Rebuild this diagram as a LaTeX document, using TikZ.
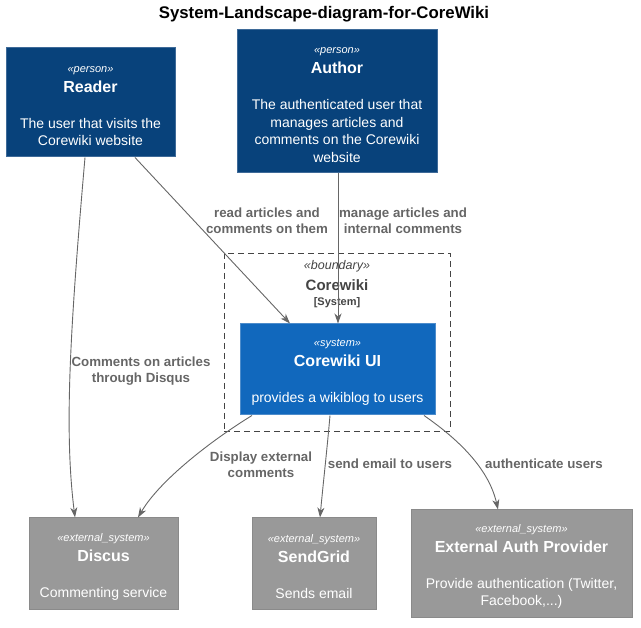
\documentclass[tikz,border=0pt]{standalone}
\usepackage{fontspec}
\setmainfont{Liberation Sans}
\usetikzlibrary{arrows.meta}
\begin{document}
\definecolor{personbg}{HTML}{08427B}
\definecolor{personbd}{HTML}{3E6A98}
\definecolor{sysbg}{HTML}{1168BD}
\definecolor{sysbd}{HTML}{4D8CCB}
\definecolor{extbg}{HTML}{999999}
\definecolor{extbd}{HTML}{8A8A8A}
\definecolor{edgec}{HTML}{666666}
\definecolor{bndc}{HTML}{444444}
\newcommand{\stereo}[1]{\rule{0pt}{13pt}{\fontsize{11}{13}\selectfont\itshape #1}}
\newcommand{\nm}[1]{{\fontsize{16}{19}\selectfont\bfseries #1}}
\tikzset{
  box/.style={draw, line width=1pt, text=white, align=center, inner sep=0pt,
    font=\fontsize{14}{17.5}\selectfont},
  personbox/.style={box, fill=personbg, draw=personbd},
  sysbox/.style={box, fill=sysbg, draw=sysbd},
  extbox/.style={box, fill=extbg, draw=extbd},
  bndbox/.style={draw=bndc, line width=0.8pt, dash pattern=on 6pt off 4pt, inner sep=0pt},
  bndtext/.style={align=center, text=bndc, inner sep=0pt, font=\fontsize{12}{15}\selectfont},
  rel/.style={draw=edgec, line width=0.9pt, -{Stealth[length=10pt,width=7pt,inset=3pt]}},
  rellabel/.style={text=edgec, font=\fontsize{13.3}{16}\selectfont\bfseries, align=center, inner sep=0pt},
}
\begin{tikzpicture}[x=1pt,y=-1pt]
\useasboundingbox (0,0) rectangle (641,628);
\node[font=\fontsize{16.8}{19}\selectfont\bfseries] (title) at (324,14) {System-Landscape-diagram-for-CoreWiki};

\node[personbox, minimum width=169, minimum height=109] (reader) at (90.5,102.5)
  {\stereo{«person»}\\[2.5pt]\nm{Reader}\\[18.5pt]The user that visits the\\Corewiki website};
\node[personbox, minimum width=200, minimum height=143] (author) at (337,101.5)
  {\stereo{«person»}\\[2.5pt]\nm{Author}\\[18.5pt]The authenticated user that\\manages articles and\\comments on the Corewiki\\website};

\node[bndbox, minimum width=226, minimum height=178] (bnd) at (337,342) {};
\node[bndtext, anchor=north] (bndlabel) at (337,260)
  {{\fontsize{12.5}{15}\selectfont\itshape «boundary»}\\[6pt]{\fontsize{15}{18}\selectfont\bfseries Corewiki}\\{\fontsize{11}{13}\selectfont\bfseries [System]}};

\node[sysbox, minimum width=195, minimum height=91] (ui) at (337.5,369.5)
  {\stereo{«system»}\\[2.5pt]\nm{Corewiki UI}\\[18.5pt]provides a wikiblog to users};

\node[extbox, minimum width=149, minimum height=92] (discus) at (103.5,564)
  {\stereo{«external\_system»}\\[2.5pt]\nm{Discus}\\[18.5pt]Commenting service};
\node[extbox, minimum width=124, minimum height=92] (sendgrid) at (314,564)
  {\stereo{«external\_system»}\\[2.5pt]\nm{SendGrid}\\[18.5pt]Sends email};
\node[extbox, minimum width=221, minimum height=108] (auth) at (521.5,564)
  {\stereo{«external\_system»}\\[2.5pt]\nm{External Auth Provider}\\[18.5pt]Provide authentication (Twitter,\\Facebook,...)};

% relations
\draw[rel] ([xshift=-5.5pt]reader.south) .. controls (70,330) and (64,430) .. ([xshift=-28.5pt]discus.north);
\draw[rel] ([xshift=44.5pt]reader.south) -- ([xshift=-47.5pt]ui.north);
\draw[rel] ([xshift=1pt]author.south) -- ([xshift=0.5pt]ui.north);
\draw[rel] ([xshift=-85.5pt]ui.south) .. controls (212,440) and (160,480) .. ([xshift=34.5pt]discus.north);
\draw[rel] ([xshift=-7.5pt]ui.south) .. controls (327,450) and (323,485) .. ([xshift=6pt]sendgrid.north);
\draw[rel] ([xshift=86.5pt]ui.south) .. controls (452,435) and (488,465) .. ([xshift=-23.5pt]auth.north);

\node[rellabel] (l1) at (141,371) {Comments on articles\\through Disqus};
\node[rellabel] (l2) at (267,221) {read articles and\\comments on them};
\node[rellabel] (l3) at (403,221) {manage articles and\\internal comments};
\node[rellabel] (l4) at (261,464.5) {Display external\\comments};
\node[rellabel] (l5) at (390,464) {send email to users};
\node[rellabel] (l6) at (544,464) {authenticate users};
\end{tikzpicture}
\end{document}
